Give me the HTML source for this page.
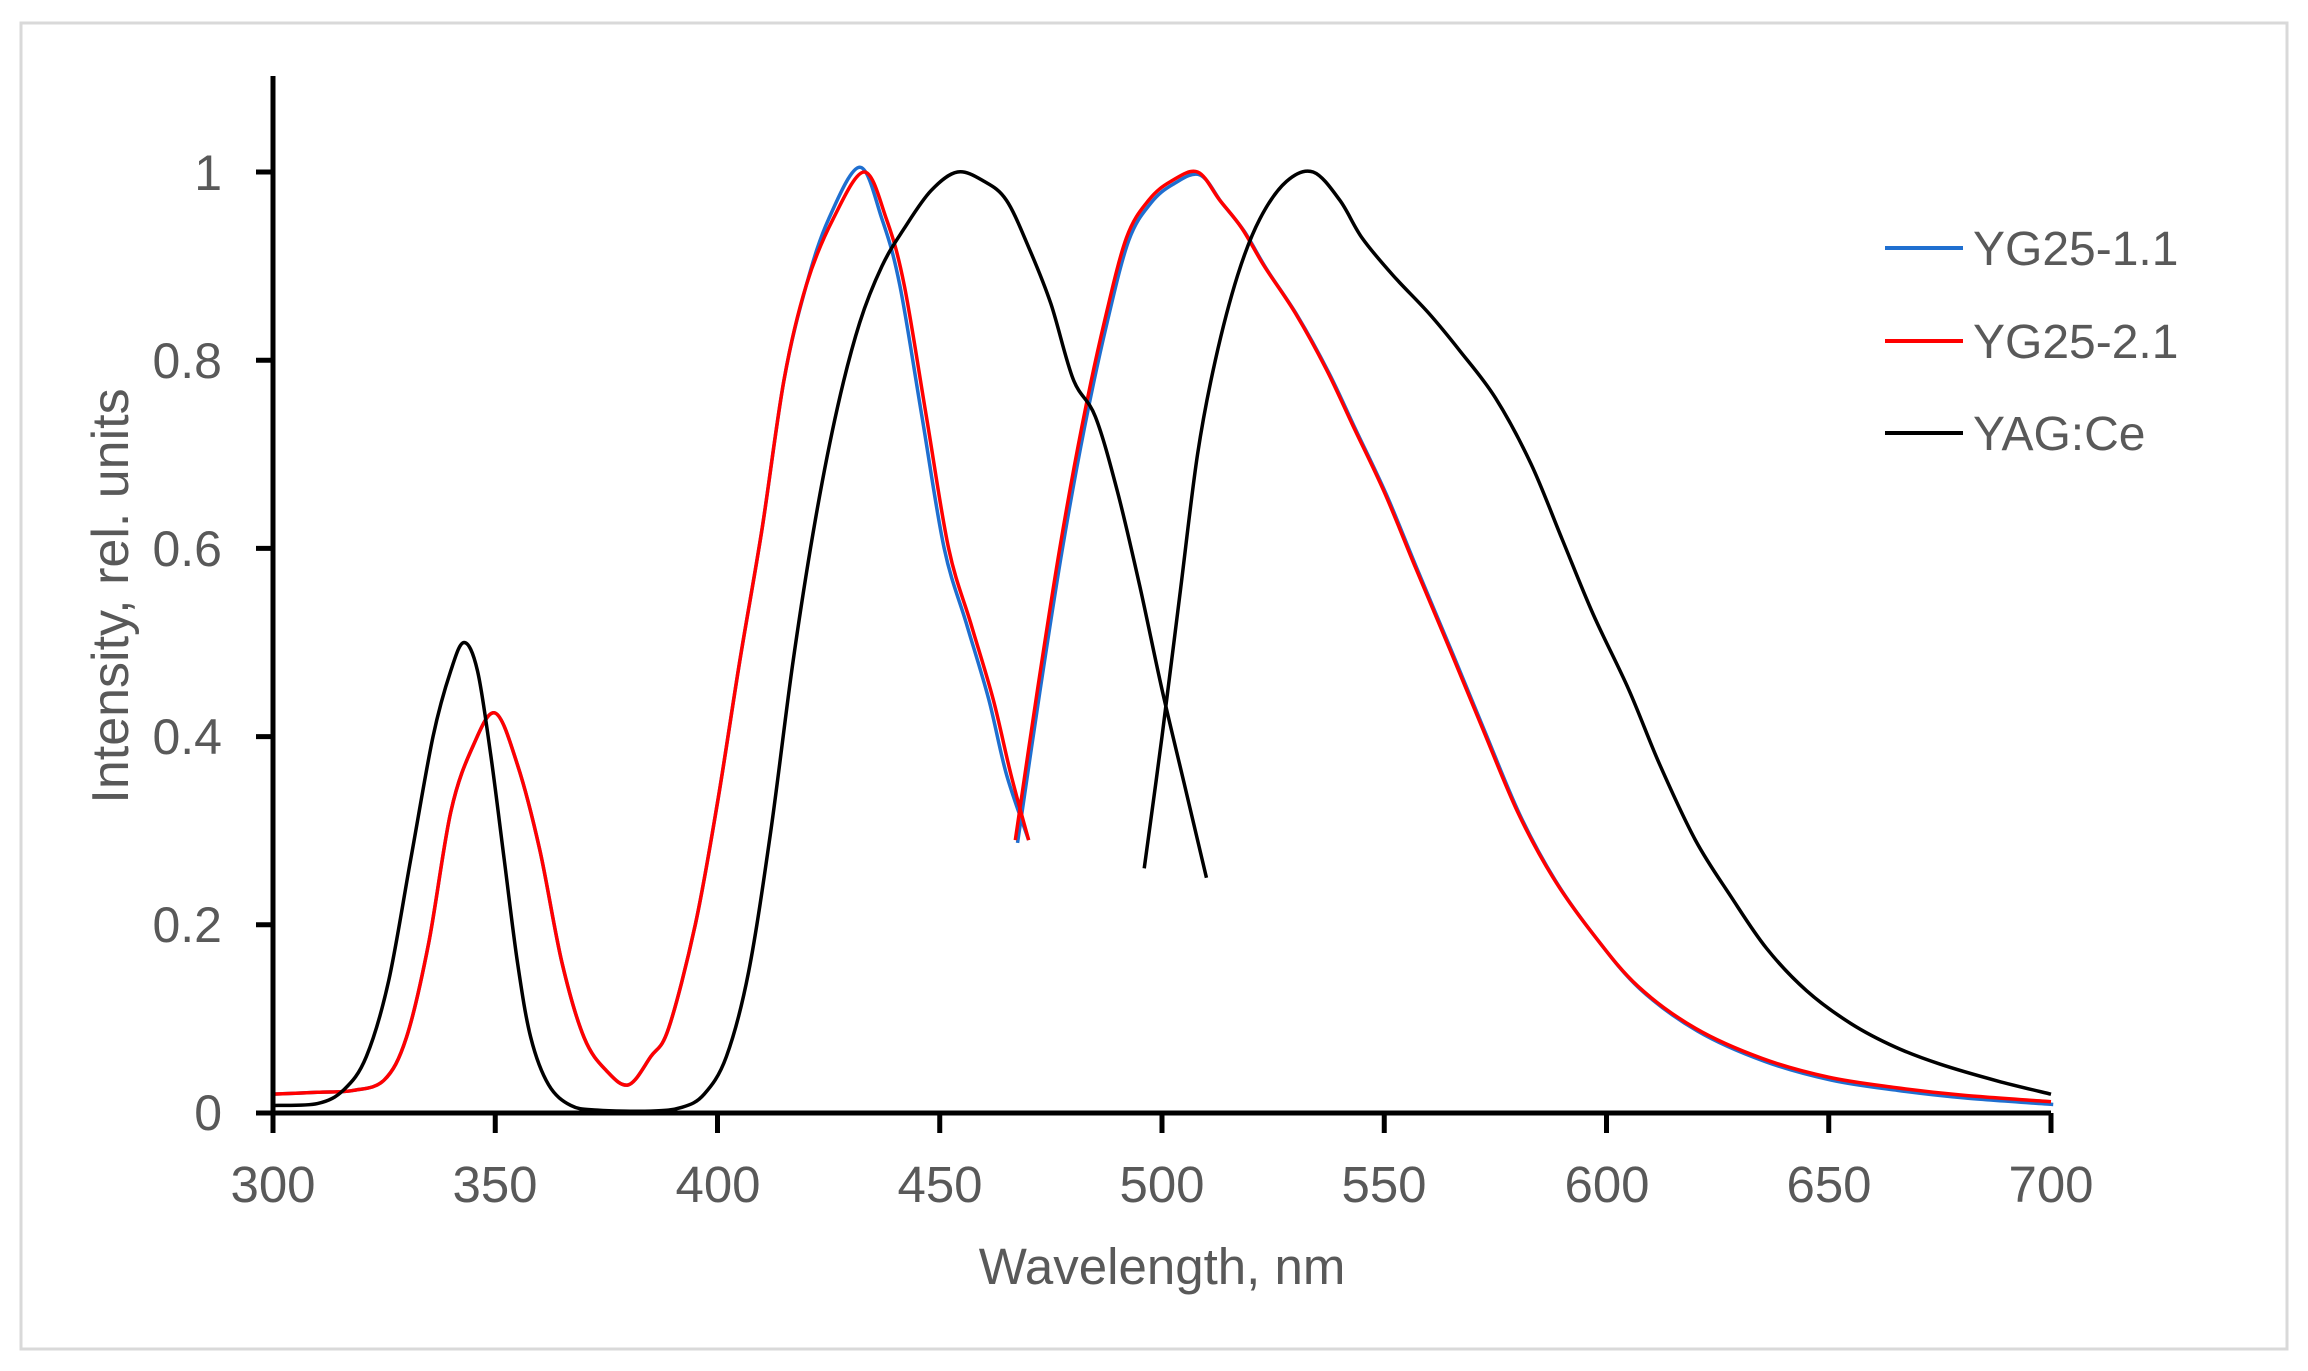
<!DOCTYPE html>
<html><head><meta charset="utf-8"><style>
html,body{margin:0;padding:0;background:#fff;}
svg{display:block}
text{font-family:"Liberation Sans",sans-serif;fill:#595959}
</style></head><body>
<svg id="s" width="2308" height="1371" viewBox="0 0 2308 1371" xmlns="http://www.w3.org/2000/svg">
<rect x="21" y="23" width="2266" height="1326" fill="#fff" stroke="#d9d9d9" stroke-width="3"/>
<g font-size="50" text-anchor="end">
<text x="222" y="1130">0</text>
<text x="222" y="942">0.2</text>
<text x="222" y="754">0.4</text>
<text x="222" y="566">0.6</text>
<text x="222" y="378">0.8</text>
<text x="222" y="190">1</text>
</g>
<g font-size="51" text-anchor="middle">
<text x="273" y="1202">300</text><text x="495" y="1202">350</text><text x="718" y="1202">400</text>
<text x="940" y="1202">450</text><text x="1162" y="1202">500</text><text x="1384" y="1202">550</text>
<text x="1607" y="1202">600</text><text x="1829" y="1202">650</text><text x="2051" y="1202">700</text>
<text x="1162" y="1284">Wavelength, nm</text>
<text transform="translate(128,596) rotate(-90)" font-size="52">Intensity, rel. units</text>
</g>
<g id="curves" fill="none" stroke-width="3.5" stroke-linejoin="round"></g>
<g stroke="#000" stroke-width="5">
<line x1="273" y1="76" x2="273" y2="1133"/>
<line x1="256" y1="1113" x2="2051" y2="1113"/>
</g>
<g id="ticks" stroke="#000" stroke-width="5"></g>
<g stroke-width="4">
<line x1="1885" y1="248" x2="1963" y2="248" stroke="#1f6fd0"/>
<line x1="1885" y1="341" x2="1963" y2="341" stroke="#ff0000"/>
<line x1="1885" y1="433" x2="1963" y2="433" stroke="#000"/>
</g>
<g font-size="48">
<text x="1973" y="265">YG25-1.1</text>
<text x="1973" y="358">YG25-2.1</text>
<text x="1973" y="450">YAG:Ce</text>
</g>
</svg>
<script>
var X=function(n){return 273+(n-300)*4.445},Y=function(v){return 1113-v*941};
var t=document.getElementById('ticks'),NS="http://www.w3.org/2000/svg";
for(var i=0;i<=8;i++){var l=document.createElementNS(NS,'line');var x=X(300+50*i);l.setAttribute('x1',x);l.setAttribute('x2',x);l.setAttribute('y1',1113);l.setAttribute('y2',1133);t.appendChild(l);}
for(var i=1;i<=5;i++){var l=document.createElementNS(NS,'line');var y=Y(i*0.2);l.setAttribute('x1',256);l.setAttribute('x2',273);l.setAttribute('y1',y);l.setAttribute('y2',y);t.appendChild(l);}
function path(pts,col){var p=pts.map(function(a){return[X(a[0]),Y(a[1])]});var d="M"+p[0][0]+","+p[0][1];
for(var i=0;i<p.length-1;i++){var p0=p[i-1]||p[i],p1=p[i],p2=p[i+1],p3=p[i+2]||p2;
d+=" C"+(p1[0]+(p2[0]-p0[0])/6)+","+(p1[1]+(p2[1]-p0[1])/6)+" "+(p2[0]-(p3[0]-p1[0])/6)+","+(p2[1]-(p3[1]-p1[1])/6)+" "+p2[0]+","+p2[1];}
var e=document.createElementNS(NS,'path');e.setAttribute('d',d);e.setAttribute('stroke',col);document.getElementById('curves').appendChild(e);}
var exc=[[300,0.02],[310,0.022],[318,0.024],[325,0.035],[330,0.08],[335,0.18],[340,0.32],[345,0.39],[350,0.425],[355,0.37],[360,0.28],[365,0.16],[370,0.08],[375,0.045],[380,0.03],[385,0.06],[389,0.09],[395,0.2],[400,0.33],[405,0.48],[410,0.62],[415,0.78],[420,0.88],[426,0.95],[433,1.0],[438,0.95],[442,0.88],[447,0.74],[452,0.6],[457,0.52],[462,0.44],[466,0.36],[470,0.29]];
var excB=exc.map(function(a){return [a[0]+(a[0]>425&&a[0]<470?-1:0),a[1]+(a[0]==433?0.005:0)]});
var em=[[467,0.29],[472,0.45],[477,0.6],[482,0.73],[487,0.84],[492,0.93],[497,0.97],[502,0.99],[508,1.0],[513,0.97],[518,0.94],[523,0.9],[530,0.85],[537,0.79],[543,0.73],[550,0.66],[557,0.58],[565,0.49],[572,0.41],[580,0.32],[588,0.25],[597,0.19],[607,0.135],[620,0.09],[635,0.058],[650,0.038],[665,0.027],[680,0.019],[700,0.012]];
var bexc=[[300,0.008],[310,0.01],[316,0.025],[321,0.06],[326,0.14],[331,0.27],[336,0.4],[340,0.47],[343,0.5],[346,0.47],[349,0.38],[352,0.27],[355,0.16],[358,0.08],[362,0.03],[367,0.008],[373,0.003],[385,0.002],[392,0.006],[397,0.02],[402,0.06],[407,0.15],[412,0.3],[417,0.48],[422,0.63],[427,0.75],[432,0.84],[437,0.9],[442,0.94],[448,0.98],[454,1.0],[460,0.99],[465,0.97],[470,0.92],[475,0.86],[480,0.78],[485,0.74],[490,0.66],[495,0.56],[500,0.45],[505,0.35],[510,0.25]];
var bem=[[496,0.26],[500,0.4],[504,0.55],[508,0.7],[512,0.8],[517,0.89],[522,0.95],[528,0.99],[534,1.0],[540,0.97],[545,0.93],[552,0.89],[560,0.85],[567,0.81],[575,0.76],[583,0.69],[590,0.61],[597,0.53],[605,0.45],[612,0.37],[620,0.29],[628,0.23],[636,0.175],[645,0.13],[655,0.095],[665,0.07],[675,0.052],[688,0.034],[700,0.02]];
path(excB,"#1f6fd0");path(em.map(function(a){return[a[0]+0.5,a[1]-0.003]}),"#1f6fd0");
path(exc,"#ff0000");path(em,"#ff0000");
path(bexc,"#000");path(bem,"#000");
</script>
</body></html>
